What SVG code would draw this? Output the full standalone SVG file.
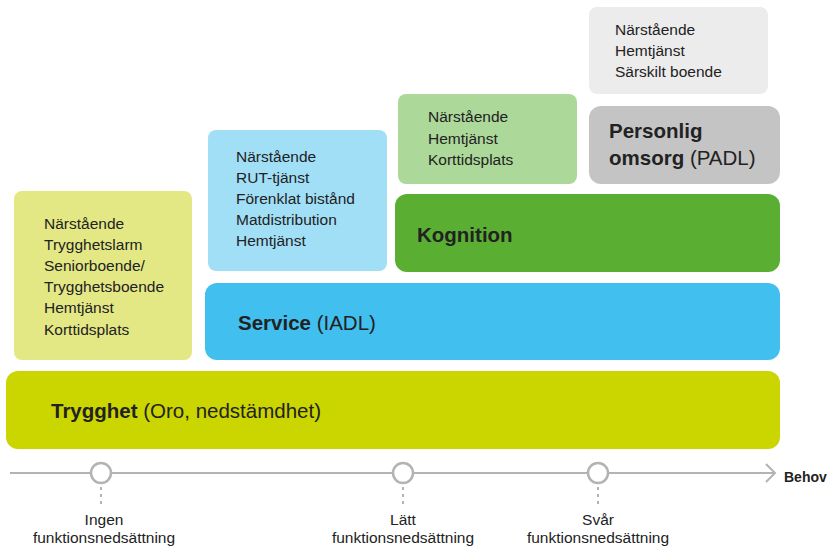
<svg xmlns="http://www.w3.org/2000/svg" width="832" height="548" viewBox="0 0 832 548">
<style>
text{font-family:"Liberation Sans","DejaVu Sans",sans-serif;fill:#222}
.item{font-size:15.5px}
.head{font-size:20.5px}
.b{font-weight:bold}
.ax{font-size:15.5px;text-anchor:middle}
.line{stroke:#b3b3b3;stroke-width:2;fill:none}
.dot{fill:#fff;stroke:#b3b3b3;stroke-width:2.5}
.dash{stroke:#b3b3b3;stroke-width:2;stroke-dasharray:3 4}
</style>
<rect width="832" height="548" fill="#fff"/>
<g id="trygghet-list">
<rect x="14" y="191" width="178" height="169" rx="8" fill="#e3e884"/>
<text class="item" x="44" y="229">Närstående</text>
<text class="item" x="44" y="250">Trygghetslarm</text>
<text class="item" x="44" y="271">Seniorboende/</text>
<text class="item" x="44" y="292">Trygghetsboende</text>
<text class="item" x="44" y="313">Hemtjänst</text>
<text class="item" x="44" y="335">Korttidsplats</text>
</g>
<g id="service-list">
<rect x="208" y="130" width="179" height="141" rx="8" fill="#a1dff7"/>
<text class="item" x="236" y="162">Närstående</text>
<text class="item" x="236" y="183">RUT-tjänst</text>
<text class="item" x="236" y="204">Förenklat bistånd</text>
<text class="item" x="236" y="225">Matdistribution</text>
<text class="item" x="236" y="246">Hemtjänst</text>
</g>
<g id="kognition-list">
<rect x="398" y="94" width="179" height="90" rx="8" fill="#acd89a"/>
<text class="item" x="428" y="122">Närstående</text>
<text class="item" x="428" y="144">Hemtjänst</text>
<text class="item" x="428" y="165">Korttidsplats</text>
</g>
<g id="padl-list">
<rect x="589" y="7" width="179" height="87" rx="8" fill="#ececec"/>
<text class="item" x="615" y="35">Närstående</text>
<text class="item" x="615" y="56">Hemtjänst</text>
<text class="item" x="615" y="77">Särskilt boende</text>
</g>
<g id="padl">
<rect x="589" y="106" width="191" height="78" rx="12" fill="#c4c4c4"/>
<text class="head" x="609" y="138"><tspan class="b">Personlig</tspan></text>
<text class="head" x="609" y="165"><tspan class="b">omsorg</tspan> (PADL)</text>
</g>
<g id="kognition">
<rect x="395" y="194" width="385" height="78" rx="12" fill="#5aaf33"/>
<text class="head b" x="417" y="242">Kognition</text>
</g>
<g id="service">
<rect x="205" y="283" width="575" height="77" rx="12" fill="#41bfee"/>
<text class="head" x="238" y="330"><tspan class="b">Service</tspan> (IADL)</text>
</g>
<g id="trygghet">
<rect x="6" y="371" width="774" height="78" rx="12" fill="#cbd500"/>
<text class="head" x="51" y="418"><tspan class="b">Trygghet</tspan> (Oro, nedstämdhet)</text>
</g>
<g id="connectors">
<line class="line" x1="10" y1="473" x2="775" y2="473"/>
<polyline class="line" points="766,464 775,473 766,482"/>
<line class="dash" x1="101" y1="487" x2="101" y2="508"/>
<line class="dash" x1="403" y1="487" x2="403" y2="508"/>
<line class="dash" x1="598" y1="487" x2="598" y2="508"/>
</g>
<g id="axis-labels">
<circle class="dot" cx="101" cy="473" r="10"/>
<circle class="dot" cx="403" cy="473" r="10"/>
<circle class="dot" cx="598" cy="473" r="10"/>
<text class="b" x="784" y="482" style="font-size:14px">Behov</text>
<text class="ax" x="104" y="525">Ingen</text>
<text class="ax" x="104" y="543">funktionsnedsättning</text>
<text class="ax" x="403" y="525">Lätt</text>
<text class="ax" x="403" y="543">funktionsnedsättning</text>
<text class="ax" x="598" y="525">Svår</text>
<text class="ax" x="598" y="543">funktionsnedsättning</text>
</g>
</svg>
